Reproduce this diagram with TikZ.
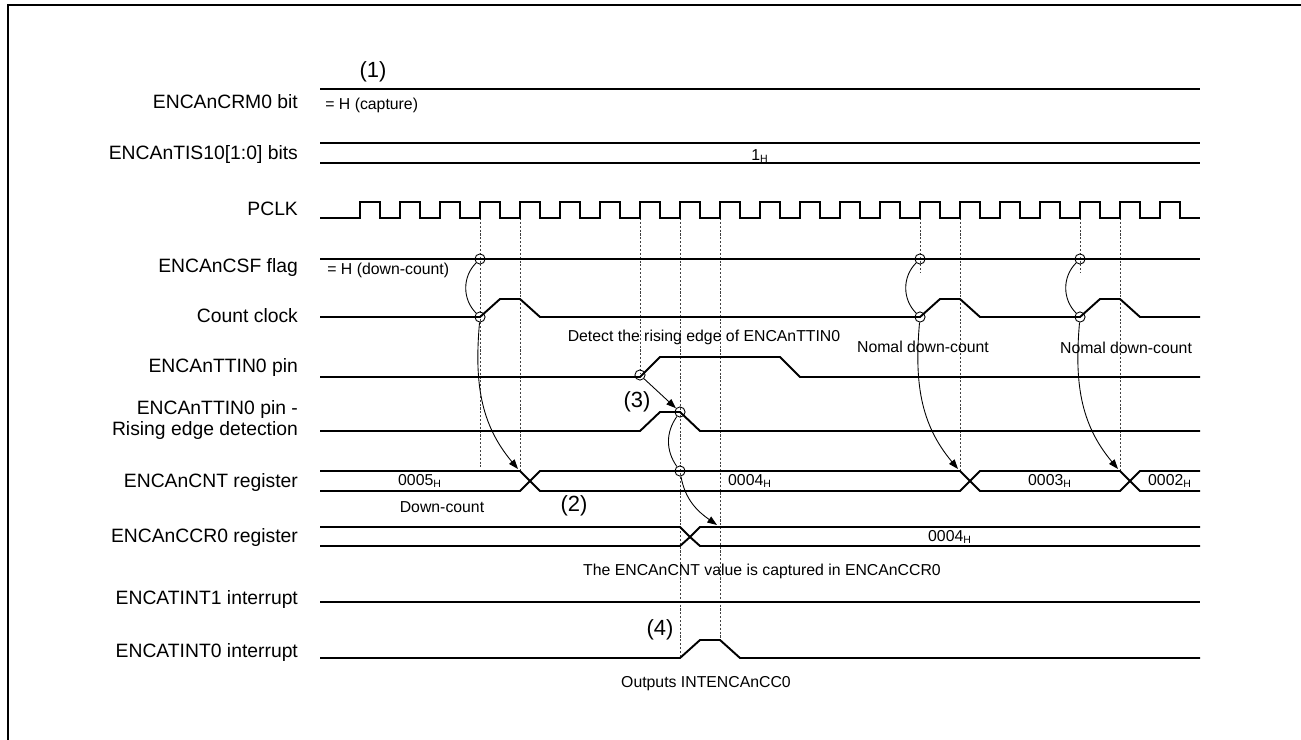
\documentclass[tikz,border=0pt]{standalone}
\usepackage{fontspec}
\setmainfont{Liberation Sans}
\usepackage{tikz}
\usetikzlibrary{arrows.meta}

\begin{document}
\begin{tikzpicture}[
  x=0.02cm, y=-0.02cm,
  sig/.style={line width=1.1pt},
  guide/.style={line width=0.45pt, dash pattern=on 1.2pt off 1pt, black!75},
  ring/.style={circle, draw, line width=0.5pt, inner sep=0pt, minimum size=5.8pt},
  link/.style={line width=0.5pt},
  arr/.style={-{Triangle[length=5.5pt, width=4pt]}, line width=0.5pt},
  lbl/.style={anchor=east, align=right, inner sep=1pt, font=\fontsize{11}{11.5}\selectfont},
  note/.style={inner sep=0pt, font=\fontsize{9}{11}\selectfont},
  tag/.style={inner sep=0pt, font=\fontsize{12.5}{14}\selectfont}
]
\useasboundingbox (0,0) rectangle (1301,740);
\draw[line width=1.4pt] (8,740) -- (8,5) -- (1301,5);

\node[lbl] (crm) at (300,102) {ENCAnCRM0 bit};
\node[lbl] (tis) at (300,155) {ENCAnTIS10[1:0] bits};
\node[lbl] (pclk) at (300,209) {PCLK};
\node[lbl] (csf) at (300,268) {ENCAnCSF flag};
\node[lbl] (cclk) at (300,316) {Count clock};
\node[lbl] (ttin) at (300,368) {ENCAnTTIN0 pin};
\node[lbl] (edge) at (300,420) {ENCAnTTIN0 pin -\\Rising edge detection};
\node[lbl] (cnt) at (300,482) {ENCAnCNT register};
\node[lbl] (ccr) at (300,537) {ENCAnCCR0 register};
\node[lbl] (int1) at (300,599) {ENCATINT1 interrupt};
\node[lbl] (int0) at (300,652) {ENCATINT0 interrupt};

\foreach \x/\a/\b in {480/218/467, 520/218/471, 640/218/374, 680/218/658, 720/218/640,
                      920/218/273, 960/218/471, 1080/218/273, 1120/218/471}
  \draw[guide] (\x,\a) -- (\x,\b);

\draw[sig] (320,89) -- (1200,89);
\draw[sig] (320,143) -- (1200,143);
\draw[sig] (320,163) -- (1200,163);
\draw[sig] (320,218) \foreach \t in {360,400,...,1160} { -- (\t,218) -- (\t,202) -- (\t+20,202) -- (\t+20,218) } -- (1200,218);
\draw[sig] (320,259) -- (1200,259);
\draw[sig] (320,317) \foreach \t in {480,920,1080} { -- (\t,317) -- (\t+20,299) -- (\t+40,299) -- (\t+60,317) } -- (1200,317);
\draw[sig] (320,377) -- (640,377) -- (660,357) -- (780,357) -- (800,377) -- (1200,377);
\draw[sig] (320,431) -- (640,431) -- (660,412) -- (680,412) -- (700,431) -- (1200,431);
\draw[sig] (320,471) \foreach \t in {520,960,1120} { -- (\t,471) -- (\t+10,481) -- (\t+20,471) } -- (1200,471);
\draw[sig] (320,491) \foreach \t in {520,960,1120} { -- (\t,491) -- (\t+10,481) -- (\t+20,491) } -- (1200,491);
\draw[sig] (320,527) -- (680,527) -- (690,537) -- (700,527) -- (1200,527);
\draw[sig] (320,546) -- (680,546) -- (690,537) -- (700,546) -- (1200,546);
\draw[sig] (320,602) -- (1200,602);
\draw[sig] (320,658) -- (680,658) -- (700,640) -- (720,640) -- (740,658) -- (1200,658);

\node[note] (v1) at (760,156) {1\textsubscript{H}};
\node[note] (v5) at (420,481) {0005\textsubscript{H}};
\node[note] (v4) at (750,481) {0004\textsubscript{H}};
\node[note] (v3) at (1050,481) {0003\textsubscript{H}};
\node[note] (v2) at (1170,481) {0002\textsubscript{H}};
\node[note] (vc) at (950,537) {0004\textsubscript{H}};

\node[tag] (n1) at (373,72) {(1)};
\node[tag] (n2) at (574,506) {(2)};
\node[tag] (n3) at (637,402) {(3)};
\node[tag] (n4) at (660,630) {(4)};

\node[note, anchor=west] (cap) at (325,105) {= H (capture)};
\node[note, anchor=west] (down) at (327,270) {= H (down-count)};
\node[note] (detect) at (704,337) {Detect the rising edge of ENCAnTTIN0};
\node[note] (nom1) at (923,347) {Nomal down-count};
\node[note] (nom2) at (1126,348) {Nomal down-count};
\node[note] (dc) at (442,507) {Down-count};
\node[note] (capt) at (762,571) {The ENCAnCNT value is captured in ENCAnCCR0};
\node[note] (outp) at (706,684) {Outputs INTENCAnCC0};

\node[ring] (fa1) at (480,259) {};
\node[ring] (fb1) at (480,317) {};
\node[ring] (fa2) at (920,259) {};
\node[ring] (fb2) at (920,317) {};
\node[ring] (fa3) at (1080,259) {};
\node[ring] (fb3) at (1080,317) {};
\node[ring] (rt) at (640,375) {};
\node[ring] (re) at (680,412) {};
\node[ring] (rc) at (680,471) {};
\coordinate (t1) at (518,469);
\coordinate (t2) at (958,469);
\coordinate (t3) at (1118,469);
\coordinate (t4) at (717,525);

\draw[link] (fa1) to[out=225, in=135] (fb1);
\draw[link] (fa2) to[out=225, in=135] (fb2);
\draw[link] (fa3) to[out=225, in=135] (fb3);
\draw[arr] (fb1) to[out=265, in=130] (t1);
\draw[arr] (fb2) to[out=265, in=130] (t2);
\draw[arr] (fb3) to[out=265, in=130] (t3);
\draw[arr] (rt) -- (re);
\draw[link] (re) to[out=235, in=125] (rc);
\draw[arr] (rc) to[out=280, in=145] (t4);
\end{tikzpicture}
\end{document}
